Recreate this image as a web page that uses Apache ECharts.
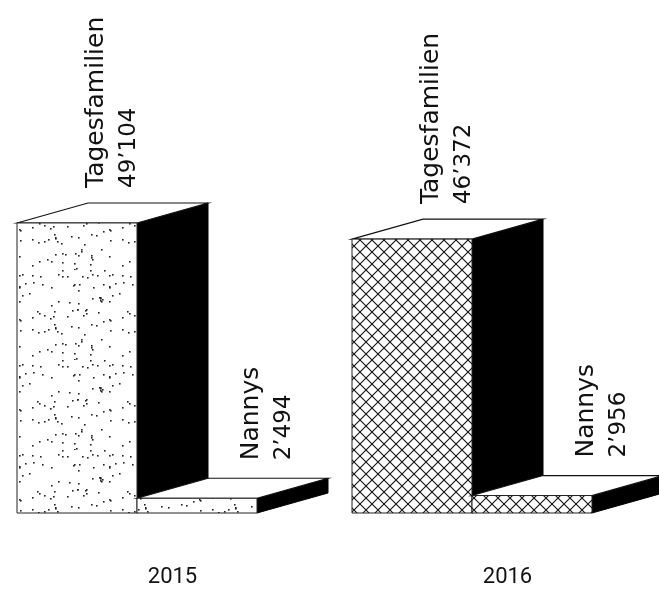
<!DOCTYPE html>
<html><head><meta charset="utf-8">
<script src="https://cdn.jsdelivr.net/npm/echarts@6/dist/echarts.min.js"></script>
<style>html,body{margin:0;padding:0;background:#fff}#c{width:659px;height:589px}</style>
</head><body><div id="c"></div>
<script>
// ---- data ----
const years = ['2015', '2016'];
const seriesNames = ['Tagesfamilien', 'Nannys'];
const tagesfamilien = [49104, 46372];
const nannys = [2494, 2956];

function fmt(v) { return String(v).replace(/\B(?=(\d{3})+(?!\d))/g, '\u2019'); }

// ---- fill patterns ----
function dotPattern() {
  const n = 90, c = document.createElement('canvas');
  c.width = n; c.height = n;
  const g = c.getContext('2d');
  g.fillStyle = '#fff'; g.fillRect(0, 0, n, n);
  let s = 987654;
  const r = () => (s = (s * 16807) % 2147483647) / 2147483647;
  g.fillStyle = '#222';
  for (let i = 0; i < 95; i++) {
    g.fillRect(Math.floor(r() * n), Math.floor(r() * n), 1.6, 1.6);
  }
  return c;
}
function hatchPattern() {
  const n = 12, c = document.createElement('canvas');
  c.width = n; c.height = n;
  const g = c.getContext('2d');
  g.fillStyle = '#fff'; g.fillRect(0, 0, n, n);
  g.strokeStyle = '#111'; g.lineWidth = 1.1;
  g.beginPath();
  g.moveTo(-1, -1); g.lineTo(n + 1, n + 1);
  g.moveTo(n + 1, -1); g.lineTo(-1, n + 1);
  g.stroke();
  return c;
}
const patterns = [dotPattern(), hatchPattern()];

// geometry (px relative to a 335px category band)
const BAND_REF = 335, BAR_W = 120, DEPTH_X = 71, DEPTH_Y = 20;
const BAR_OFFSET = [-155.5, -35.5];
const LABEL_OFFSET = [96, 131];
const LABEL_GAP = [15, 18];

function makeRender(kind) {
  return function (params, api) {
    const xi = api.value(0), v = api.value(1);
    const base = api.coord([xi, 0]);
    const top = api.coord([xi, v]);
    const band = api.size([1, 0])[0];
    const k = band / BAND_REF;
    const W = BAR_W * k, DX = DEPTH_X * k, DY = DEPTH_Y;
    const x0 = base[0] + BAR_OFFSET[kind] * k, x1 = x0 + W;
    const yb = base[1], yt = top[1];
    return {
      type: 'group',
      children: [
        { type: 'polygon', shape: { points: [[x1, yt], [x1 + DX, yt - DY], [x1 + DX, yb - DY], [x1, yb]] },
          style: { fill: '#000', stroke: '#000', lineWidth: 1 } },
        { type: 'polygon', shape: { points: [[x0, yt], [x0 + DX, yt - DY], [x1 + DX, yt - DY], [x1, yt]] },
          style: { fill: '#fff', stroke: '#111', lineWidth: 1.2 } },
        { type: 'rect', shape: { x: x0, y: yt, width: W, height: yb - yt },
          style: { fill: { image: patterns[xi], repeat: 'repeat' }, stroke: '#222', lineWidth: 1 } },
        { type: 'text', x: x0 + LABEL_OFFSET[kind] * k, y: yt - DY - LABEL_GAP[kind], rotation: Math.PI / 2,
          style: { text: '{n|' + seriesNames[kind] + '}\n{v|' + fmt(v) + '}',
                   fill: '#111', align: 'left', verticalAlign: 'middle',
                   rich: {
                     n: { fontFamily: 'DejaVu Sans', fontSize: 25, lineHeight: 33, fill: '#111' },
                     v: { fontFamily: 'DejaVu Sans', fontSize: 23, lineHeight: 33, fill: '#111' }
                   } } }
      ]
    };
  };
}

const chart = echarts.init(document.getElementById('c'), null, { renderer: 'canvas' });
chart.setOption({
  animation: false,
  backgroundColor: '#fff',
  grid: { left: 5, top: 40.5, width: 670, height: 472.5, outerBoundsMode: 'none', containLabel: false },
  xAxis: {
    type: 'category', data: years,
    axisLine: { show: false }, axisTick: { show: false }, splitLine: { show: false },
    axisLabel: { margin: 53, fontSize: 22, fontFamily: 'Roboto', color: '#111' }
  },
  yAxis: { type: 'value', min: 0, max: 80000, show: false },
  series: [
    { type: 'custom', name: seriesNames[0], renderItem: makeRender(0),
      data: tagesfamilien.map((v, i) => [i, v]) },
    { type: 'custom', name: seriesNames[1], renderItem: makeRender(1),
      data: nannys.map((v, i) => [i, v]) }
  ]
});
</script>
</body></html>
